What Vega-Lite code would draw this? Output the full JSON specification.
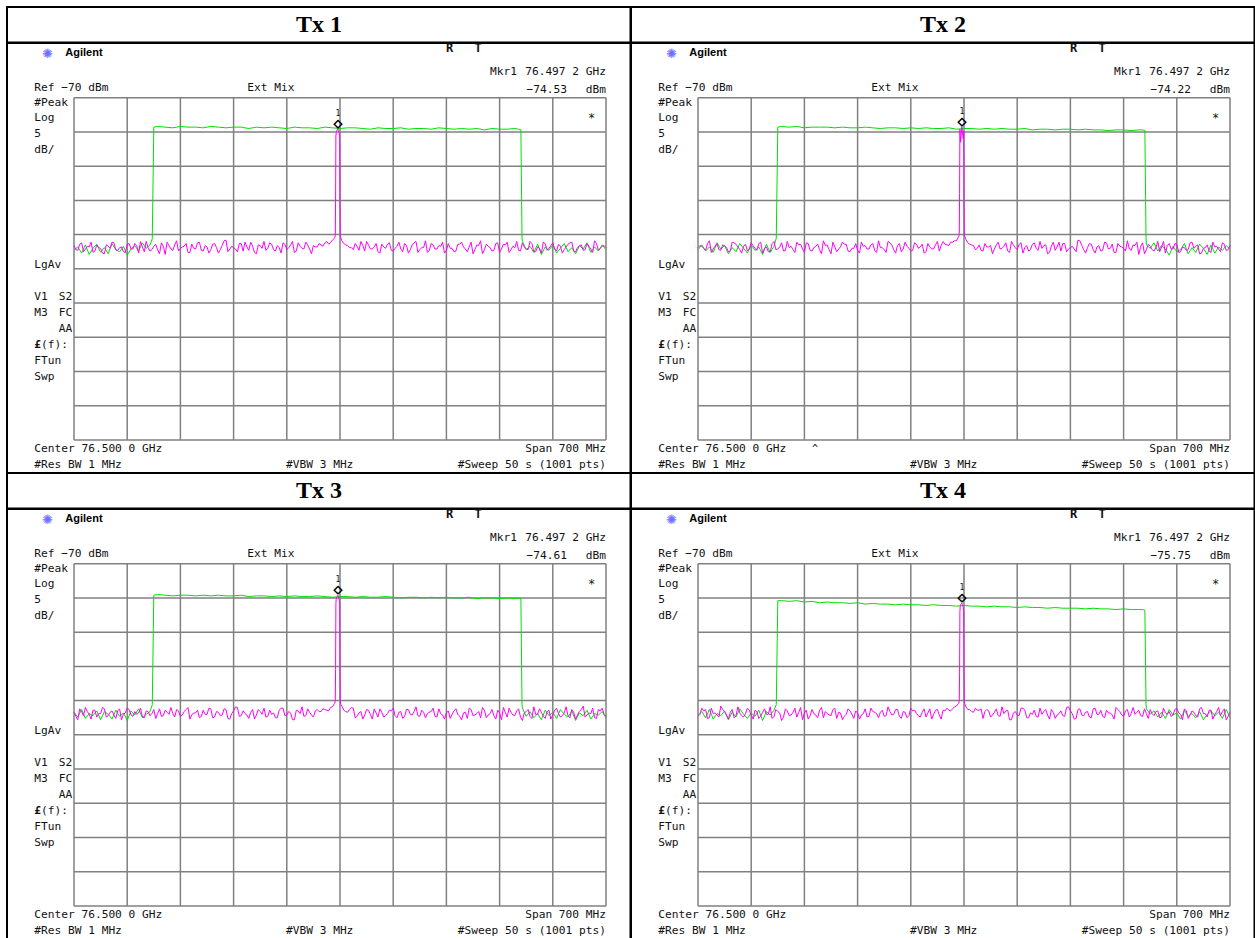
{
"$schema":"https://vega.github.io/schema/vega-lite/v6.json",
"background":"white",
"padding":{"left":4,"top":6,"right":0,"bottom":0},
"bounds":"flush",
"config":{"view":{"stroke":"black","strokeWidth":2},"axis":{"disable":true},"header":{"labels":false,"labelExpr":"''","labelFontSize":0,"labelPadding":0,"title":null,"titlePadding":0},"text":{"font":"DejaVu Sans Mono","fontSize":11.2,"fill":"#111","baseline":"middle"}},
"data":{"values":[
{"p":1,"t":"Tx 1","mf":-2.8,"mk":-74.53},{"p":2,"t":"Tx 2","mf":-2.8,"mk":-74.22},{"p":3,"t":"Tx 3","mf":-2.8,"mk":-74.61},{"p":4,"t":"Tx 4","mf":-2.8,"mk":-75.75},
{"p":1,"gx":-350,"gy":-70},{"p":1,"gx":-280,"gy":-75},{"p":1,"gx":-210,"gy":-80},{"p":1,"gx":-140,"gy":-85},{"p":1,"gx":-70,"gy":-90},{"p":1,"gx":0,"gy":-95},{"p":1,"gx":70,"gy":-100},{"p":1,"gx":140,"gy":-105},{"p":1,"gx":210,"gy":-110},{"p":1,"gx":280,"gy":-115},{"p":1,"gx":350,"gy":-120},
{"p":2,"gx":-350,"gy":-70},{"p":2,"gx":-280,"gy":-75},{"p":2,"gx":-210,"gy":-80},{"p":2,"gx":-140,"gy":-85},{"p":2,"gx":-70,"gy":-90},{"p":2,"gx":0,"gy":-95},{"p":2,"gx":70,"gy":-100},{"p":2,"gx":140,"gy":-105},{"p":2,"gx":210,"gy":-110},{"p":2,"gx":280,"gy":-115},{"p":2,"gx":350,"gy":-120},
{"p":3,"gx":-350,"gy":-70},{"p":3,"gx":-280,"gy":-75},{"p":3,"gx":-210,"gy":-80},{"p":3,"gx":-140,"gy":-85},{"p":3,"gx":-70,"gy":-90},{"p":3,"gx":0,"gy":-95},{"p":3,"gx":70,"gy":-100},{"p":3,"gx":140,"gy":-105},{"p":3,"gx":210,"gy":-110},{"p":3,"gx":280,"gy":-115},{"p":3,"gx":350,"gy":-120},
{"p":4,"gx":-350,"gy":-70},{"p":4,"gx":-280,"gy":-75},{"p":4,"gx":-210,"gy":-80},{"p":4,"gx":-140,"gy":-85},{"p":4,"gx":-70,"gy":-90},{"p":4,"gx":0,"gy":-95},{"p":4,"gx":70,"gy":-100},{"p":4,"gx":140,"gy":-105},{"p":4,"gx":210,"gy":-110},{"p":4,"gx":280,"gy":-115},{"p":4,"gx":350,"gy":-120},
{"p":1,"f":-350,"m":-91.6,"g":-92.3},{"p":1,"f":-345,"m":-92.3,"g":-91.8},{"p":1,"f":-340,"m":-91.2,"g":-92.7},{"p":1,"f":-335,"m":-92.1,"g":-91.5},{"p":1,"f":-330,"m":-91.8,"g":-92.9},{"p":1,"f":-325,"m":-92.6,"g":-92.0},{"p":1,"f":-320,"m":-91.5,"g":-91.4},{"p":1,"f":-315,"m":-92.0,"g":-92.6},{"p":1,"f":-310,"m":-92.8,"g":-91.9},{"p":1,"f":-305,"m":-91.7,"g":-92.8},{"p":1,"f":-300,"m":-91.1,"g":-91.3},{"p":1,"f":-295,"m":-92.2,"g":-92.2},{"p":1,"f":-290,"m":-91.9,"g":-92.5},{"p":1,"f":-285,"m":-92.5,"g":-91.7},{"p":1,"f":-280,"m":-91.4,"g":-93.0},{"p":1,"f":-275,"m":-92.1,"g":-92.1},{"p":1,"f":-270,"m":-91.3,"g":-91.6},{"p":1,"f":-265,"m":-92.7,"g":-92.4},{"p":1,"f":-260,"m":-91.8,"g":-91.2},{"p":1,"f":-255,"m":-91.0,"g":-92.0},{"p":1,"f":-250,"m":-92.4,"g":-91.5},{"p":1,"f":-247,"g":-90.6},
{"p":1,"f":-245,"m":-91.7,"g":-74.3},{"p":1,"f":-240,"m":-92.2,"g":-74.2},{"p":1,"f":-235,"m":-91.2},{"p":1,"f":-230,"m":-92.9,"g":-74.3},{"p":1,"f":-225,"m":-91.6},{"p":1,"f":-220,"m":-92.3,"g":-74.4},{"p":1,"f":-215,"m":-90.9},{"p":1,"f":-210,"m":-92.0,"g":-74.2},{"p":1,"f":-205,"m":-91.7},{"p":1,"f":-200,"m":-92.6,"g":-74.3},{"p":1,"f":-195,"m":-91.4},{"p":1,"f":-190,"m":-92.1,"g":-74.3},{"p":1,"f":-185,"m":-91.1},{"p":1,"f":-180,"m":-92.4,"g":-74.4},{"p":1,"f":-175,"m":-91.8},{"p":1,"f":-170,"m":-92.2,"g":-74.2},{"p":1,"f":-165,"m":-91.3},{"p":1,"f":-160,"m":-92.7,"g":-74.3},{"p":1,"f":-155,"m":-91.6},{"p":1,"f":-150,"m":-90.8,"g":-74.4},{"p":1,"f":-145,"m":-92.1},{"p":1,"f":-140,"m":-91.9,"g":-74.3},{"p":1,"f":-135,"m":-92.5},{"p":1,"f":-130,"m":-91.3,"g":-74.3},{"p":1,"f":-125,"m":-91.1},{"p":1,"f":-120,"m":-92.3,"g":-74.5},{"p":1,"f":-115,"m":-91.7},{"p":1,"f":-110,"m":-92.8,"g":-74.3},{"p":1,"f":-105,"m":-91.6},{"p":1,"f":-100,"m":-91.0,"g":-74.4},{"p":1,"f":-95,"m":-92.0},{"p":1,"f":-90,"m":-91.4,"g":-74.3},{"p":1,"f":-85,"m":-92.4},{"p":1,"f":-80,"m":-91.9,"g":-74.4},{"p":1,"f":-75,"m":-91.2},{"p":1,"f":-70,"m":-92.2,"g":-74.5},{"p":1,"f":-65,"m":-91.5},{"p":1,"f":-60,"m":-92.6,"g":-74.3},{"p":1,"f":-55,"m":-91.2},{"p":1,"f":-50,"m":-92.0,"g":-74.4},{"p":1,"f":-45,"m":-91.1},{"p":1,"f":-40,"m":-92.1,"g":-74.4},{"p":1,"f":-35,"m":-91.6},{"p":1,"f":-30,"m":-91.8,"g":-74.5},{"p":1,"f":-25,"m":-91.5},{"p":1,"f":-20,"m":-91.2,"g":-74.3},{"p":1,"f":-15,"m":-91.4},{"p":1,"f":-10,"m":-90.8,"g":-74.4},
{"p":1,"f":-7,"m":-90.5},{"p":1,"f":-6.2,"m":-90.1},{"p":1,"f":-5.8,"m":-85.0},{"p":1,"f":-5.4,"m":-75.6},{"p":1,"f":-5,"m":-75.1},{"p":1,"f":-4.5,"m":-74.9},{"p":1,"f":-3.6,"m":-74.7},{"p":1,"f":-2.8,"m":-74.53},{"p":1,"f":-2,"m":-74.8},{"p":1,"f":-1,"m":-75.2},{"p":1,"f":-0.3,"m":-75.9},{"p":1,"f":0,"m":-84.0,"g":-74.5},{"p":1,"f":0.3,"m":-89.9},{"p":1,"f":0.8,"m":-90.4},{"p":1,"f":2.5,"m":-90.9},{"p":1,"f":5,"m":-91.3},{"p":1,"f":10,"m":-91.6,"g":-74.4},
{"p":1,"f":15,"m":-91.9},{"p":1,"f":20,"m":-91.3,"g":-74.4},{"p":1,"f":25,"m":-92.3},{"p":1,"f":30,"m":-91.6,"g":-74.5},{"p":1,"f":35,"m":-91.0},{"p":1,"f":40,"m":-92.1,"g":-74.6},{"p":1,"f":45,"m":-91.8},{"p":1,"f":50,"m":-92.5,"g":-74.4},{"p":1,"f":55,"m":-91.4},{"p":1,"f":60,"m":-92.0,"g":-74.5},{"p":1,"f":65,"m":-91.2},{"p":1,"f":70,"m":-92.4,"g":-74.5},{"p":1,"f":75,"m":-91.7},{"p":1,"f":80,"m":-92.1,"g":-74.4},{"p":1,"f":85,"m":-91.3},{"p":1,"f":90,"m":-92.7,"g":-74.6},{"p":1,"f":95,"m":-91.5},{"p":1,"f":100,"m":-91.0,"g":-74.5},{"p":1,"f":105,"m":-92.2},{"p":1,"f":110,"m":-91.9,"g":-74.5},{"p":1,"f":115,"m":-92.6},{"p":1,"f":120,"m":-91.3,"g":-74.6},{"p":1,"f":125,"m":-92.1},{"p":1,"f":130,"m":-91.6,"g":-74.4},{"p":1,"f":135,"m":-91.1},{"p":1,"f":140,"m":-92.3,"g":-74.5},{"p":1,"f":145,"m":-92.0},{"p":1,"f":150,"m":-92.5,"g":-74.6},{"p":1,"f":155,"m":-91.4},{"p":1,"f":160,"m":-91.1,"g":-74.5},{"p":1,"f":165,"m":-92.1},{"p":1,"f":170,"m":-91.8,"g":-74.6},{"p":1,"f":175,"m":-92.8},{"p":1,"f":180,"m":-91.5,"g":-74.5},{"p":1,"f":185,"m":-90.9},{"p":1,"f":190,"m":-92.2,"g":-74.7},{"p":1,"f":195,"m":-91.7},{"p":1,"f":200,"m":-92.4,"g":-74.5},{"p":1,"f":205,"m":-91.3},{"p":1,"f":210,"m":-92.6,"g":-74.6},{"p":1,"f":215,"m":-91.4},{"p":1,"f":220,"m":-91.1,"g":-74.6},{"p":1,"f":225,"m":-92.2},{"p":1,"f":230,"m":-91.9,"g":-74.5},{"p":1,"f":235,"m":-92.3,"g":-74.6},{"p":1,"f":238,"g":-74.7},{"p":1,"f":239.5,"g":-90.5},
{"p":1,"f":240,"m":-91.2,"g":-91.0},{"p":1,"f":245,"m":-92.1,"g":-92.2},{"p":1,"f":250,"m":-91.0,"g":-91.7},{"p":1,"f":255,"m":-92.5,"g":-92.6},{"p":1,"f":260,"m":-91.8,"g":-91.4},{"p":1,"f":265,"m":-92.7,"g":-92.9},{"p":1,"f":270,"m":-91.3,"g":-91.8},{"p":1,"f":275,"m":-92.0,"g":-92.3},{"p":1,"f":280,"m":-91.2,"g":-91.5},{"p":1,"f":285,"m":-92.4,"g":-92.7},{"p":1,"f":290,"m":-91.7,"g":-92.0},{"p":1,"f":295,"m":-92.2,"g":-91.3},{"p":1,"f":300,"m":-91.4,"g":-92.5},{"p":1,"f":305,"m":-91.1,"g":-91.9},{"p":1,"f":310,"m":-92.5,"g":-92.8},{"p":1,"f":315,"m":-91.6,"g":-91.6},{"p":1,"f":320,"m":-92.3,"g":-92.1},{"p":1,"f":325,"m":-91.3,"g":-91.2},{"p":1,"f":330,"m":-92.1,"g":-92.6},{"p":1,"f":335,"m":-90.9,"g":-91.8},{"p":1,"f":340,"m":-92.3,"g":-92.4},{"p":1,"f":345,"m":-91.7,"g":-91.5},{"p":1,"f":350,"m":-91.9,"g":-92.2},
{"p":1,"f":-347.5,"m":-92.2},{"p":1,"f":-342.5,"m":-91.4},{"p":1,"f":-337.5,"m":-92.5},{"p":1,"f":-332.5,"m":-91.7},{"p":1,"f":-327.5,"m":-91.1},{"p":1,"f":-322.5,"m":-92.4},{"p":1,"f":-317.5,"m":-91.9},{"p":1,"f":-312.5,"m":-92.7},{"p":1,"f":-307.5,"m":-91.5},{"p":1,"f":-302.5,"m":-92.0},{"p":1,"f":-297.5,"m":-91.2},{"p":1,"f":-292.5,"m":-92.3},{"p":1,"f":-287.5,"m":-91.8},{"p":1,"f":-282.5,"m":-92.6},{"p":1,"f":-277.5,"m":-91.3},{"p":1,"f":-272.5,"m":-92.1},{"p":1,"f":-267.5,"m":-91.6},{"p":1,"f":-262.5,"m":-91.0},{"p":1,"f":-257.5,"m":-92.5},{"p":1,"f":-252.5,"m":-91.9},{"p":1,"f":-247.5,"m":-92.2},{"p":1,"f":-242.5,"m":-91.4},{"p":1,"f":-237.5,"m":-92.8},{"p":1,"f":-232.5,"m":-91.7},{"p":1,"f":-227.5,"m":-91.1},{"p":1,"f":-222.5,"m":-92.1},{"p":1,"f":-217.5,"m":-91.5},{"p":1,"f":-212.5,"m":-92.4},{"p":1,"f":-207.5,"m":-91.8},{"p":1,"f":-202.5,"m":-91.3},{"p":1,"f":-197.5,"m":-92.6},{"p":1,"f":-192.5,"m":-92.0},{"p":1,"f":-187.5,"m":-91.2},{"p":1,"f":-182.5,"m":-92.3},{"p":1,"f":-177.5,"m":-91.6},{"p":1,"f":-172.5,"m":-92.7},{"p":1,"f":-167.5,"m":-91.4},{"p":1,"f":-162.5,"m":-91.9},{"p":1,"f":-157.5,"m":-92.2},{"p":1,"f":-152.5,"m":-90.9},{"p":1,"f":-147.5,"m":-92.5},{"p":1,"f":-142.5,"m":-91.7},{"p":1,"f":-137.5,"m":-92.1},{"p":1,"f":-132.5,"m":-91.3},{"p":1,"f":-127.5,"m":-92.4},{"p":1,"f":-122.5,"m":-91.8},{"p":1,"f":-117.5,"m":-91.1},{"p":1,"f":-112.5,"m":-92.6},{"p":1,"f":-107.5,"m":-91.5},{"p":1,"f":-102.5,"m":-92.0},{"p":1,"f":-97.5,"m":-92.3},{"p":1,"f":-92.5,"m":-91.2},{"p":1,"f":-87.5,"m":-92.2},{"p":1,"f":-82.5,"m":-91.6},{"p":1,"f":-77.5,"m":-92.7},{"p":1,"f":-72.5,"m":-91.4},{"p":1,"f":-67.5,"m":-91.9},{"p":1,"f":-62.5,"m":-91.0},{"p":1,"f":-57.5,"m":-92.4},{"p":1,"f":-52.5,"m":-91.7},{"p":1,"f":-47.5,"m":-92.1},{"p":1,"f":-42.5,"m":-91.5},{"p":1,"f":-37.5,"m":-92.8},{"p":1,"f":-32.5,"m":-91.8},{"p":1,"f":-27.5,"m":-91.3},{"p":1,"f":-22.5,"m":-91.7},{"p":1,"f":-17.5,"m":-91.0},{"p":1,"f":-12.5,"m":-91.2},{"p":1,"f":7.5,"m":-91.5},{"p":1,"f":12.5,"m":-91.9},{"p":1,"f":17.5,"m":-92.2},{"p":1,"f":22.5,"m":-91.7},{"p":1,"f":27.5,"m":-91.0},{"p":1,"f":32.5,"m":-92.4},{"p":1,"f":37.5,"m":-91.5},{"p":1,"f":42.5,"m":-92.1},{"p":1,"f":47.5,"m":-91.3},{"p":1,"f":52.5,"m":-92.7},{"p":1,"f":57.5,"m":-91.8},{"p":1,"f":62.5,"m":-91.4},{"p":1,"f":67.5,"m":-92.3},{"p":1,"f":72.5,"m":-92.0},{"p":1,"f":77.5,"m":-91.1},{"p":1,"f":82.5,"m":-92.5},{"p":1,"f":87.5,"m":-91.6},{"p":1,"f":92.5,"m":-92.2},{"p":1,"f":97.5,"m":-91.2},{"p":1,"f":102.5,"m":-92.6},{"p":1,"f":107.5,"m":-91.9},{"p":1,"f":112.5,"m":-90.9},{"p":1,"f":117.5,"m":-92.3},{"p":1,"f":122.5,"m":-91.5},{"p":1,"f":127.5,"m":-92.1},{"p":1,"f":132.5,"m":-91.7},{"p":1,"f":137.5,"m":-92.7},{"p":1,"f":142.5,"m":-91.3},{"p":1,"f":147.5,"m":-92.0},{"p":1,"f":152.5,"m":-92.4},{"p":1,"f":157.5,"m":-91.4},{"p":1,"f":162.5,"m":-91.8},{"p":1,"f":167.5,"m":-92.5},{"p":1,"f":172.5,"m":-91.1},{"p":1,"f":177.5,"m":-92.2},{"p":1,"f":182.5,"m":-91.6},{"p":1,"f":187.5,"m":-92.8},{"p":1,"f":192.5,"m":-91.4},{"p":1,"f":197.5,"m":-91.9},{"p":1,"f":202.5,"m":-92.3},{"p":1,"f":207.5,"m":-91.2},{"p":1,"f":212.5,"m":-92.1},{"p":1,"f":217.5,"m":-91.5},{"p":1,"f":222.5,"m":-92.6},{"p":1,"f":227.5,"m":-91.7},{"p":1,"f":232.5,"m":-91.0},{"p":1,"f":237.5,"m":-92.4},{"p":1,"f":242.5,"m":-91.8},{"p":1,"f":247.5,"m":-92.2},{"p":1,"f":252.5,"m":-91.3},{"p":1,"f":257.5,"m":-92.5},{"p":1,"f":262.5,"m":-92.0},{"p":1,"f":267.5,"m":-91.1},{"p":1,"f":272.5,"m":-92.3},{"p":1,"f":277.5,"m":-91.6},{"p":1,"f":282.5,"m":-92.1},{"p":1,"f":287.5,"m":-91.4},{"p":1,"f":292.5,"m":-92.7},{"p":1,"f":297.5,"m":-91.8},{"p":1,"f":302.5,"m":-91.2},{"p":1,"f":307.5,"m":-92.4},{"p":1,"f":312.5,"m":-91.9},{"p":1,"f":317.5,"m":-91.5},{"p":1,"f":322.5,"m":-92.2},{"p":1,"f":327.5,"m":-91.7},{"p":1,"f":332.5,"m":-92.6},{"p":1,"f":337.5,"m":-91.3},{"p":1,"f":342.5,"m":-92.0},{"p":1,"f":347.5,"m":-91.6},
{"p":2,"f":-350,"m":-91.9,"g":-92.2},{"p":2,"f":-345,"m":-91.7,"g":-91.5},{"p":2,"f":-340,"m":-92.3,"g":-92.4},{"p":2,"f":-335,"m":-90.9,"g":-91.8},{"p":2,"f":-330,"m":-92.1,"g":-92.6},{"p":2,"f":-325,"m":-91.3,"g":-91.2},{"p":2,"f":-320,"m":-92.3,"g":-92.1},{"p":2,"f":-315,"m":-91.6,"g":-91.6},{"p":2,"f":-310,"m":-92.5,"g":-92.8},{"p":2,"f":-305,"m":-91.1,"g":-91.9},{"p":2,"f":-300,"m":-91.4,"g":-92.5},{"p":2,"f":-295,"m":-92.2,"g":-91.3},{"p":2,"f":-290,"m":-91.7,"g":-92.0},{"p":2,"f":-285,"m":-92.4,"g":-92.7},{"p":2,"f":-280,"m":-91.2,"g":-91.5},{"p":2,"f":-275,"m":-92.0,"g":-92.3},{"p":2,"f":-270,"m":-91.3,"g":-91.8},{"p":2,"f":-265,"m":-92.7,"g":-92.9},{"p":2,"f":-260,"m":-91.8,"g":-91.4},{"p":2,"f":-255,"m":-92.5,"g":-92.6},{"p":2,"f":-250,"m":-91.0,"g":-91.7},{"p":2,"f":-247,"g":-90.5},
{"p":2,"f":-245,"m":-92.1,"g":-74.3},{"p":2,"f":-240,"m":-91.2,"g":-74.2},{"p":2,"f":-235,"m":-92.3},{"p":2,"f":-230,"m":-91.9,"g":-74.3},{"p":2,"f":-225,"m":-92.2},{"p":2,"f":-220,"m":-91.1,"g":-74.2},{"p":2,"f":-215,"m":-91.4},{"p":2,"f":-210,"m":-92.6,"g":-74.4},{"p":2,"f":-205,"m":-91.3},{"p":2,"f":-200,"m":-92.4,"g":-74.3},{"p":2,"f":-195,"m":-91.7},{"p":2,"f":-190,"m":-92.2,"g":-74.3},{"p":2,"f":-185,"m":-90.9},{"p":2,"f":-180,"m":-91.5,"g":-74.3},{"p":2,"f":-175,"m":-92.8},{"p":2,"f":-170,"m":-91.8,"g":-74.4},{"p":2,"f":-165,"m":-92.1},{"p":2,"f":-160,"m":-91.1,"g":-74.3},{"p":2,"f":-155,"m":-91.4},{"p":2,"f":-150,"m":-92.5,"g":-74.4},{"p":2,"f":-145,"m":-92.0},{"p":2,"f":-140,"m":-92.3,"g":-74.4},{"p":2,"f":-135,"m":-91.1},{"p":2,"f":-130,"m":-91.6,"g":-74.3},{"p":2,"f":-125,"m":-92.1},{"p":2,"f":-120,"m":-91.3,"g":-74.4},{"p":2,"f":-115,"m":-92.6},{"p":2,"f":-110,"m":-91.9,"g":-74.5},{"p":2,"f":-105,"m":-92.2},{"p":2,"f":-100,"m":-91.0,"g":-74.4},{"p":2,"f":-95,"m":-91.5},{"p":2,"f":-90,"m":-92.7,"g":-74.4},{"p":2,"f":-85,"m":-91.3},{"p":2,"f":-80,"m":-92.1,"g":-74.5},{"p":2,"f":-75,"m":-91.7},{"p":2,"f":-70,"m":-92.4,"g":-74.4},{"p":2,"f":-65,"m":-91.2},{"p":2,"f":-60,"m":-92.0,"g":-74.5},{"p":2,"f":-55,"m":-91.4},{"p":2,"f":-50,"m":-92.5,"g":-74.4},{"p":2,"f":-45,"m":-91.8},{"p":2,"f":-40,"m":-92.1,"g":-74.5},{"p":2,"f":-35,"m":-91.0},{"p":2,"f":-30,"m":-91.6,"g":-74.5},{"p":2,"f":-25,"m":-91.4},{"p":2,"f":-20,"m":-91.6,"g":-74.4},{"p":2,"f":-15,"m":-91.1},{"p":2,"f":-10,"m":-90.9,"g":-74.6},
{"p":2,"f":-7,"m":-90.3},{"p":2,"f":-6.2,"m":-89.8},{"p":2,"f":-5.8,"m":-84.0},{"p":2,"f":-5.4,"m":-74.6},{"p":2,"f":-5,"m":-75.4},{"p":2,"f":-4.5,"m":-76.5},{"p":2,"f":-3.6,"m":-75.2},{"p":2,"f":-2.8,"m":-74.22},{"p":2,"f":-2,"m":-75.0},{"p":2,"f":-1,"m":-76.0},{"p":2,"f":-0.3,"m":-74.9},{"p":2,"f":0,"m":-83.0,"g":-74.5},{"p":2,"f":0.3,"m":-89.6},{"p":2,"f":0.8,"m":-90.2},{"p":2,"f":2.5,"m":-90.7},{"p":2,"f":5,"m":-91.2},{"p":2,"f":10,"m":-91.5,"g":-74.5},
{"p":2,"f":15,"m":-92.2},{"p":2,"f":20,"m":-91.5,"g":-74.6},{"p":2,"f":25,"m":-92.4},{"p":2,"f":30,"m":-91.8,"g":-74.5},{"p":2,"f":35,"m":-91.6},{"p":2,"f":40,"m":-92.1,"g":-74.6},{"p":2,"f":45,"m":-91.1},{"p":2,"f":50,"m":-92.0,"g":-74.5},{"p":2,"f":55,"m":-91.2},{"p":2,"f":60,"m":-92.6,"g":-74.6},{"p":2,"f":65,"m":-91.5},{"p":2,"f":70,"m":-92.2,"g":-74.6},{"p":2,"f":75,"m":-91.2},{"p":2,"f":80,"m":-91.9,"g":-74.5},{"p":2,"f":85,"m":-92.4},{"p":2,"f":90,"m":-91.4,"g":-74.7},{"p":2,"f":95,"m":-92.0},{"p":2,"f":100,"m":-91.0,"g":-74.6},{"p":2,"f":105,"m":-91.6},{"p":2,"f":110,"m":-92.8,"g":-74.6},{"p":2,"f":115,"m":-91.7},{"p":2,"f":120,"m":-92.3,"g":-74.7},{"p":2,"f":125,"m":-91.1},{"p":2,"f":130,"m":-91.3,"g":-74.6},{"p":2,"f":135,"m":-92.5},{"p":2,"f":140,"m":-91.9,"g":-74.6},{"p":2,"f":145,"m":-92.1},{"p":2,"f":150,"m":-90.8,"g":-74.7},{"p":2,"f":155,"m":-91.6},{"p":2,"f":160,"m":-92.7,"g":-74.6},{"p":2,"f":165,"m":-91.3},{"p":2,"f":170,"m":-92.2,"g":-74.7},{"p":2,"f":175,"m":-91.8},{"p":2,"f":180,"m":-92.4,"g":-74.7},{"p":2,"f":185,"m":-91.1},{"p":2,"f":190,"m":-92.1,"g":-74.8},{"p":2,"f":195,"m":-91.4},{"p":2,"f":200,"m":-92.6,"g":-74.7},{"p":2,"f":205,"m":-91.7},{"p":2,"f":210,"m":-92.0,"g":-74.7},{"p":2,"f":215,"m":-90.9},{"p":2,"f":220,"m":-92.3,"g":-74.8},{"p":2,"f":225,"m":-91.6},{"p":2,"f":230,"m":-92.9,"g":-74.7},{"p":2,"f":235,"m":-91.2,"g":-74.7},{"p":2,"f":238,"g":-74.8},{"p":2,"f":239.5,"g":-90.4},
{"p":2,"f":240,"m":-92.2,"g":-91.5},{"p":2,"f":245,"m":-91.7,"g":-92.0},{"p":2,"f":250,"m":-92.4,"g":-91.2},{"p":2,"f":255,"m":-91.0,"g":-92.4},{"p":2,"f":260,"m":-91.8,"g":-91.6},{"p":2,"f":265,"m":-92.7,"g":-92.1},{"p":2,"f":270,"m":-91.3,"g":-93.0},{"p":2,"f":275,"m":-92.1,"g":-91.7},{"p":2,"f":280,"m":-91.4,"g":-92.5},{"p":2,"f":285,"m":-92.5,"g":-92.2},{"p":2,"f":290,"m":-91.9,"g":-91.3},{"p":2,"f":295,"m":-92.2,"g":-92.8},{"p":2,"f":300,"m":-91.1,"g":-91.9},{"p":2,"f":305,"m":-91.7,"g":-92.6},{"p":2,"f":310,"m":-92.8,"g":-91.4},{"p":2,"f":315,"m":-92.0,"g":-92.0},{"p":2,"f":320,"m":-91.5,"g":-92.9},{"p":2,"f":325,"m":-92.6,"g":-91.5},{"p":2,"f":330,"m":-91.8,"g":-92.7},{"p":2,"f":335,"m":-92.1,"g":-91.8},{"p":2,"f":340,"m":-91.2,"g":-92.3},{"p":2,"f":345,"m":-92.3,"g":-91.6},{"p":2,"f":350,"m":-91.6,"g":-92.1},
{"p":2,"f":-347.5,"m":-91.6},{"p":2,"f":-342.5,"m":-92.0},{"p":2,"f":-337.5,"m":-91.3},{"p":2,"f":-332.5,"m":-92.6},{"p":2,"f":-327.5,"m":-91.7},{"p":2,"f":-322.5,"m":-92.2},{"p":2,"f":-317.5,"m":-91.5},{"p":2,"f":-312.5,"m":-91.9},{"p":2,"f":-307.5,"m":-92.4},{"p":2,"f":-302.5,"m":-91.2},{"p":2,"f":-297.5,"m":-91.8},{"p":2,"f":-292.5,"m":-92.7},{"p":2,"f":-287.5,"m":-91.4},{"p":2,"f":-282.5,"m":-92.1},{"p":2,"f":-277.5,"m":-91.6},{"p":2,"f":-272.5,"m":-92.3},{"p":2,"f":-267.5,"m":-91.1},{"p":2,"f":-262.5,"m":-92.0},{"p":2,"f":-257.5,"m":-92.5},{"p":2,"f":-252.5,"m":-91.3},{"p":2,"f":-247.5,"m":-92.2},{"p":2,"f":-242.5,"m":-91.8},{"p":2,"f":-237.5,"m":-92.4},{"p":2,"f":-232.5,"m":-91.0},{"p":2,"f":-227.5,"m":-91.7},{"p":2,"f":-222.5,"m":-92.6},{"p":2,"f":-217.5,"m":-91.5},{"p":2,"f":-212.5,"m":-92.1},{"p":2,"f":-207.5,"m":-91.2},{"p":2,"f":-202.5,"m":-92.3},{"p":2,"f":-197.5,"m":-91.9},{"p":2,"f":-192.5,"m":-91.4},{"p":2,"f":-187.5,"m":-92.8},{"p":2,"f":-182.5,"m":-91.6},{"p":2,"f":-177.5,"m":-92.2},{"p":2,"f":-172.5,"m":-91.1},{"p":2,"f":-167.5,"m":-92.5},{"p":2,"f":-162.5,"m":-91.8},{"p":2,"f":-157.5,"m":-91.4},{"p":2,"f":-152.5,"m":-92.4},{"p":2,"f":-147.5,"m":-92.0},{"p":2,"f":-142.5,"m":-91.3},{"p":2,"f":-137.5,"m":-92.7},{"p":2,"f":-132.5,"m":-91.7},{"p":2,"f":-127.5,"m":-92.1},{"p":2,"f":-122.5,"m":-91.5},{"p":2,"f":-117.5,"m":-92.3},{"p":2,"f":-112.5,"m":-90.9},{"p":2,"f":-107.5,"m":-91.9},{"p":2,"f":-102.5,"m":-92.6},{"p":2,"f":-97.5,"m":-91.2},{"p":2,"f":-92.5,"m":-92.2},{"p":2,"f":-87.5,"m":-91.6},{"p":2,"f":-82.5,"m":-92.5},{"p":2,"f":-77.5,"m":-91.1},{"p":2,"f":-72.5,"m":-92.0},{"p":2,"f":-67.5,"m":-92.3},{"p":2,"f":-62.5,"m":-91.4},{"p":2,"f":-57.5,"m":-91.8},{"p":2,"f":-52.5,"m":-92.7},{"p":2,"f":-47.5,"m":-91.3},{"p":2,"f":-42.5,"m":-92.1},{"p":2,"f":-37.5,"m":-91.5},{"p":2,"f":-32.5,"m":-92.4},{"p":2,"f":-27.5,"m":-91.0},{"p":2,"f":-22.5,"m":-91.5},{"p":2,"f":-17.5,"m":-91.1},{"p":2,"f":-12.5,"m":-90.9},{"p":2,"f":7.5,"m":-91.4},{"p":2,"f":12.5,"m":-91.6},{"p":2,"f":17.5,"m":-92.0},{"p":2,"f":22.5,"m":-92.3},{"p":2,"f":27.5,"m":-91.3},{"p":2,"f":32.5,"m":-91.8},{"p":2,"f":37.5,"m":-92.8},{"p":2,"f":42.5,"m":-91.5},{"p":2,"f":47.5,"m":-92.1},{"p":2,"f":52.5,"m":-91.7},{"p":2,"f":57.5,"m":-92.4},{"p":2,"f":62.5,"m":-91.0},{"p":2,"f":67.5,"m":-91.9},{"p":2,"f":72.5,"m":-91.4},{"p":2,"f":77.5,"m":-92.7},{"p":2,"f":82.5,"m":-91.6},{"p":2,"f":87.5,"m":-92.2},{"p":2,"f":92.5,"m":-91.2},{"p":2,"f":97.5,"m":-92.3},{"p":2,"f":102.5,"m":-92.0},{"p":2,"f":107.5,"m":-91.5},{"p":2,"f":112.5,"m":-92.6},{"p":2,"f":117.5,"m":-91.1},{"p":2,"f":122.5,"m":-91.8},{"p":2,"f":127.5,"m":-92.4},{"p":2,"f":132.5,"m":-91.3},{"p":2,"f":137.5,"m":-92.1},{"p":2,"f":142.5,"m":-91.7},{"p":2,"f":147.5,"m":-92.5},{"p":2,"f":152.5,"m":-90.9},{"p":2,"f":157.5,"m":-92.2},{"p":2,"f":162.5,"m":-91.9},{"p":2,"f":167.5,"m":-91.4},{"p":2,"f":172.5,"m":-92.7},{"p":2,"f":177.5,"m":-91.6},{"p":2,"f":182.5,"m":-92.3},{"p":2,"f":187.5,"m":-91.2},{"p":2,"f":192.5,"m":-92.0},{"p":2,"f":197.5,"m":-92.6},{"p":2,"f":202.5,"m":-91.3},{"p":2,"f":207.5,"m":-91.8},{"p":2,"f":212.5,"m":-92.4},{"p":2,"f":217.5,"m":-92.1},{"p":2,"f":222.5,"m":-91.5},{"p":2,"f":227.5,"m":-91.1},{"p":2,"f":232.5,"m":-91.7},{"p":2,"f":237.5,"m":-92.8},{"p":2,"f":242.5,"m":-91.4},{"p":2,"f":247.5,"m":-92.2},{"p":2,"f":252.5,"m":-91.9},{"p":2,"f":257.5,"m":-92.5},{"p":2,"f":262.5,"m":-91.0},{"p":2,"f":267.5,"m":-91.6},{"p":2,"f":272.5,"m":-92.1},{"p":2,"f":277.5,"m":-91.3},{"p":2,"f":282.5,"m":-92.6},{"p":2,"f":287.5,"m":-91.8},{"p":2,"f":292.5,"m":-92.3},{"p":2,"f":297.5,"m":-91.2},{"p":2,"f":302.5,"m":-92.0},{"p":2,"f":307.5,"m":-91.5},{"p":2,"f":312.5,"m":-92.7},{"p":2,"f":317.5,"m":-91.9},{"p":2,"f":322.5,"m":-92.4},{"p":2,"f":327.5,"m":-91.1},{"p":2,"f":332.5,"m":-91.7},{"p":2,"f":337.5,"m":-92.5},{"p":2,"f":342.5,"m":-91.4},{"p":2,"f":347.5,"m":-92.2},
{"p":3,"f":-350,"m":-91.7,"g":-91.7},{"p":3,"f":-345,"m":-92.8,"g":-92.4},{"p":3,"f":-340,"m":-91.6,"g":-91.3},{"p":3,"f":-335,"m":-91.0,"g":-92.6},{"p":3,"f":-330,"m":-92.0,"g":-91.9},{"p":3,"f":-325,"m":-91.4,"g":-92.2},{"p":3,"f":-320,"m":-92.4,"g":-91.5},{"p":3,"f":-315,"m":-91.9,"g":-92.8},{"p":3,"f":-310,"m":-91.2,"g":-91.6},{"p":3,"f":-305,"m":-92.2,"g":-92.0},{"p":3,"f":-300,"m":-91.5,"g":-92.7},{"p":3,"f":-295,"m":-92.6,"g":-91.4},{"p":3,"f":-290,"m":-91.2,"g":-92.3},{"p":3,"f":-285,"m":-92.0,"g":-91.8},{"p":3,"f":-280,"m":-91.1,"g":-92.9},{"p":3,"f":-275,"m":-92.1,"g":-91.5},{"p":3,"f":-270,"m":-91.6,"g":-92.1},{"p":3,"f":-265,"m":-91.8,"g":-91.2},{"p":3,"f":-260,"m":-92.4,"g":-92.5},{"p":3,"f":-255,"m":-91.5,"g":-92.0},{"p":3,"f":-250,"m":-92.2,"g":-91.6},{"p":3,"f":-247,"g":-90.6},
{"p":3,"f":-245,"m":-91.3,"g":-74.6},{"p":3,"f":-240,"m":-91.9,"g":-74.5},{"p":3,"f":-235,"m":-92.3},{"p":3,"f":-230,"m":-91.4,"g":-74.6},{"p":3,"f":-225,"m":-92.0},{"p":3,"f":-220,"m":-91.9,"g":-74.7},{"p":3,"f":-215,"m":-91.3},{"p":3,"f":-210,"m":-92.3,"g":-74.6},{"p":3,"f":-205,"m":-91.6},{"p":3,"f":-200,"m":-91.0,"g":-74.6},{"p":3,"f":-195,"m":-92.1},{"p":3,"f":-190,"m":-91.8,"g":-74.7},{"p":3,"f":-185,"m":-92.5},{"p":3,"f":-180,"m":-91.4,"g":-74.6},{"p":3,"f":-175,"m":-92.0},{"p":3,"f":-170,"m":-91.2,"g":-74.7},{"p":3,"f":-165,"m":-92.4},{"p":3,"f":-160,"m":-91.7,"g":-74.6},{"p":3,"f":-155,"m":-92.1},{"p":3,"f":-150,"m":-91.3,"g":-74.7},{"p":3,"f":-145,"m":-92.7},{"p":3,"f":-140,"m":-91.5,"g":-74.7},{"p":3,"f":-135,"m":-91.0},{"p":3,"f":-130,"m":-92.2,"g":-74.6},{"p":3,"f":-125,"m":-91.9},{"p":3,"f":-120,"m":-92.6,"g":-74.8},{"p":3,"f":-115,"m":-91.3},{"p":3,"f":-110,"m":-92.1,"g":-74.7},{"p":3,"f":-105,"m":-91.6},{"p":3,"f":-100,"m":-91.1,"g":-74.7},{"p":3,"f":-95,"m":-92.3},{"p":3,"f":-90,"m":-92.0,"g":-74.8},{"p":3,"f":-85,"m":-92.5},{"p":3,"f":-80,"m":-91.4,"g":-74.7},{"p":3,"f":-75,"m":-91.1},{"p":3,"f":-70,"m":-92.1,"g":-74.8},{"p":3,"f":-65,"m":-91.8},{"p":3,"f":-60,"m":-92.8,"g":-74.7},{"p":3,"f":-55,"m":-91.5},{"p":3,"f":-50,"m":-90.9,"g":-74.8},{"p":3,"f":-45,"m":-92.2},{"p":3,"f":-40,"m":-91.7,"g":-74.8},{"p":3,"f":-35,"m":-92.4},{"p":3,"f":-30,"m":-91.3,"g":-74.7},{"p":3,"f":-25,"m":-91.6},{"p":3,"f":-20,"m":-91.3,"g":-74.8},{"p":3,"f":-15,"m":-91.5},{"p":3,"f":-10,"m":-90.9,"g":-74.9},
{"p":3,"f":-7,"m":-90.4},{"p":3,"f":-6.2,"m":-90.0},{"p":3,"f":-5.8,"m":-85.5},{"p":3,"f":-5.4,"m":-75.8},{"p":3,"f":-5,"m":-75.2},{"p":3,"f":-4.5,"m":-75.0},{"p":3,"f":-3.6,"m":-74.8},{"p":3,"f":-2.8,"m":-74.61},{"p":3,"f":-2,"m":-74.9},{"p":3,"f":-1,"m":-75.3},{"p":3,"f":-0.3,"m":-76.0},{"p":3,"f":0,"m":-84.5,"g":-74.8},{"p":3,"f":0.3,"m":-89.8},{"p":3,"f":0.8,"m":-90.5},{"p":3,"f":2.5,"m":-90.8},{"p":3,"f":5,"m":-91.4},{"p":3,"f":10,"m":-91.7,"g":-74.8},
{"p":3,"f":15,"m":-91.0},{"p":3,"f":20,"m":-92.5,"g":-74.9},{"p":3,"f":25,"m":-91.8},{"p":3,"f":30,"m":-92.7,"g":-74.8},{"p":3,"f":35,"m":-91.3},{"p":3,"f":40,"m":-92.0,"g":-74.9},{"p":3,"f":45,"m":-91.2},{"p":3,"f":50,"m":-92.4,"g":-74.9},{"p":3,"f":55,"m":-91.7},{"p":3,"f":60,"m":-92.2,"g":-74.8},{"p":3,"f":65,"m":-91.4},{"p":3,"f":70,"m":-91.1,"g":-74.9},{"p":3,"f":75,"m":-92.5},{"p":3,"f":80,"m":-91.6,"g":-75.0},{"p":3,"f":85,"m":-92.3},{"p":3,"f":90,"m":-91.3,"g":-74.9},{"p":3,"f":95,"m":-92.1},{"p":3,"f":100,"m":-90.9,"g":-74.9},{"p":3,"f":105,"m":-92.3},{"p":3,"f":110,"m":-91.7,"g":-75.0},{"p":3,"f":115,"m":-91.9},{"p":3,"f":120,"m":-91.6,"g":-74.9},{"p":3,"f":125,"m":-92.3},{"p":3,"f":130,"m":-91.2,"g":-75.0},{"p":3,"f":135,"m":-92.1},{"p":3,"f":140,"m":-91.8,"g":-74.9},{"p":3,"f":145,"m":-92.6},{"p":3,"f":150,"m":-91.5,"g":-75.0},{"p":3,"f":155,"m":-92.0},{"p":3,"f":160,"m":-92.8,"g":-75.0},{"p":3,"f":165,"m":-91.7},{"p":3,"f":170,"m":-91.1,"g":-74.9},{"p":3,"f":175,"m":-92.2},{"p":3,"f":180,"m":-91.9,"g":-75.1},{"p":3,"f":185,"m":-92.5},{"p":3,"f":190,"m":-91.4,"g":-75.0},{"p":3,"f":195,"m":-92.1},{"p":3,"f":200,"m":-91.3,"g":-75.0},{"p":3,"f":205,"m":-92.7},{"p":3,"f":210,"m":-91.8,"g":-75.1},{"p":3,"f":215,"m":-91.0},{"p":3,"f":220,"m":-92.4,"g":-75.0},{"p":3,"f":225,"m":-91.7},{"p":3,"f":230,"m":-92.2,"g":-75.1},{"p":3,"f":235,"m":-91.2,"g":-75.0},{"p":3,"f":238,"g":-75.1},{"p":3,"f":239.5,"g":-90.6},
{"p":3,"f":240,"m":-92.9,"g":-91.1},{"p":3,"f":245,"m":-91.6,"g":-92.3},{"p":3,"f":250,"m":-92.3,"g":-91.6},{"p":3,"f":255,"m":-90.9,"g":-92.5},{"p":3,"f":260,"m":-92.0,"g":-91.9},{"p":3,"f":265,"m":-91.7,"g":-92.8},{"p":3,"f":270,"m":-92.6,"g":-91.4},{"p":3,"f":275,"m":-91.4,"g":-92.2},{"p":3,"f":280,"m":-92.1,"g":-91.7},{"p":3,"f":285,"m":-91.1,"g":-92.6},{"p":3,"f":290,"m":-92.4,"g":-91.3},{"p":3,"f":295,"m":-91.8,"g":-92.0},{"p":3,"f":300,"m":-92.2,"g":-92.4},{"p":3,"f":305,"m":-91.3,"g":-91.5},{"p":3,"f":310,"m":-92.7,"g":-92.9},{"p":3,"f":315,"m":-91.6,"g":-91.8},{"p":3,"f":320,"m":-90.8,"g":-92.2},{"p":3,"f":325,"m":-92.1,"g":-91.4},{"p":3,"f":330,"m":-91.9,"g":-92.7},{"p":3,"f":335,"m":-92.5,"g":-91.9},{"p":3,"f":340,"m":-91.3,"g":-92.1},{"p":3,"f":345,"m":-91.1,"g":-91.6},{"p":3,"f":350,"m":-92.3,"g":-92.5},
{"p":3,"f":-347.5,"m":-92.3},{"p":3,"f":-342.5,"m":-91.2},{"p":3,"f":-337.5,"m":-92.2},{"p":3,"f":-332.5,"m":-91.6},{"p":3,"f":-327.5,"m":-92.7},{"p":3,"f":-322.5,"m":-91.4},{"p":3,"f":-317.5,"m":-91.9},{"p":3,"f":-312.5,"m":-91.0},{"p":3,"f":-307.5,"m":-92.4},{"p":3,"f":-302.5,"m":-91.7},{"p":3,"f":-297.5,"m":-92.1},{"p":3,"f":-292.5,"m":-91.5},{"p":3,"f":-287.5,"m":-92.8},{"p":3,"f":-282.5,"m":-91.8},{"p":3,"f":-277.5,"m":-91.3},{"p":3,"f":-272.5,"m":-92.3},{"p":3,"f":-267.5,"m":-92.0},{"p":3,"f":-262.5,"m":-91.1},{"p":3,"f":-257.5,"m":-92.5},{"p":3,"f":-252.5,"m":-91.6},{"p":3,"f":-247.5,"m":-91.9},{"p":3,"f":-242.5,"m":-92.6},{"p":3,"f":-237.5,"m":-91.2},{"p":3,"f":-232.5,"m":-92.2},{"p":3,"f":-227.5,"m":-91.7},{"p":3,"f":-222.5,"m":-91.0},{"p":3,"f":-217.5,"m":-92.4},{"p":3,"f":-212.5,"m":-91.5},{"p":3,"f":-207.5,"m":-92.1},{"p":3,"f":-202.5,"m":-91.3},{"p":3,"f":-197.5,"m":-92.7},{"p":3,"f":-192.5,"m":-91.8},{"p":3,"f":-187.5,"m":-91.4},{"p":3,"f":-182.5,"m":-92.3},{"p":3,"f":-177.5,"m":-92.0},{"p":3,"f":-172.5,"m":-91.1},{"p":3,"f":-167.5,"m":-92.5},{"p":3,"f":-162.5,"m":-91.6},{"p":3,"f":-157.5,"m":-92.2},{"p":3,"f":-152.5,"m":-91.2},{"p":3,"f":-147.5,"m":-92.6},{"p":3,"f":-142.5,"m":-91.9},{"p":3,"f":-137.5,"m":-90.9},{"p":3,"f":-132.5,"m":-92.3},{"p":3,"f":-127.5,"m":-91.5},{"p":3,"f":-122.5,"m":-92.1},{"p":3,"f":-117.5,"m":-91.7},{"p":3,"f":-112.5,"m":-92.7},{"p":3,"f":-107.5,"m":-91.3},{"p":3,"f":-102.5,"m":-92.0},{"p":3,"f":-97.5,"m":-92.4},{"p":3,"f":-92.5,"m":-91.4},{"p":3,"f":-87.5,"m":-91.8},{"p":3,"f":-82.5,"m":-92.5},{"p":3,"f":-77.5,"m":-91.1},{"p":3,"f":-72.5,"m":-92.2},{"p":3,"f":-67.5,"m":-91.6},{"p":3,"f":-62.5,"m":-92.8},{"p":3,"f":-57.5,"m":-91.4},{"p":3,"f":-52.5,"m":-91.9},{"p":3,"f":-47.5,"m":-92.3},{"p":3,"f":-42.5,"m":-91.2},{"p":3,"f":-37.5,"m":-92.1},{"p":3,"f":-32.5,"m":-91.5},{"p":3,"f":-27.5,"m":-91.6},{"p":3,"f":-22.5,"m":-91.2},{"p":3,"f":-17.5,"m":-91.4},{"p":3,"f":-12.5,"m":-91.0},{"p":3,"f":7.5,"m":-91.6},{"p":3,"f":12.5,"m":-91.3},{"p":3,"f":17.5,"m":-91.1},{"p":3,"f":22.5,"m":-92.3},{"p":3,"f":27.5,"m":-91.6},{"p":3,"f":32.5,"m":-92.1},{"p":3,"f":37.5,"m":-91.4},{"p":3,"f":42.5,"m":-92.7},{"p":3,"f":47.5,"m":-91.8},{"p":3,"f":52.5,"m":-91.2},{"p":3,"f":57.5,"m":-92.4},{"p":3,"f":62.5,"m":-91.9},{"p":3,"f":67.5,"m":-91.5},{"p":3,"f":72.5,"m":-92.2},{"p":3,"f":77.5,"m":-91.7},{"p":3,"f":82.5,"m":-92.6},{"p":3,"f":87.5,"m":-91.3},{"p":3,"f":92.5,"m":-92.0},{"p":3,"f":97.5,"m":-91.6},{"p":3,"f":102.5,"m":-92.2},{"p":3,"f":107.5,"m":-91.4},{"p":3,"f":112.5,"m":-92.5},{"p":3,"f":117.5,"m":-91.7},{"p":3,"f":122.5,"m":-91.1},{"p":3,"f":127.5,"m":-92.4},{"p":3,"f":132.5,"m":-91.9},{"p":3,"f":137.5,"m":-92.7},{"p":3,"f":142.5,"m":-91.5},{"p":3,"f":147.5,"m":-92.0},{"p":3,"f":152.5,"m":-91.2},{"p":3,"f":157.5,"m":-92.3},{"p":3,"f":162.5,"m":-91.8},{"p":3,"f":167.5,"m":-92.6},{"p":3,"f":172.5,"m":-91.3},{"p":3,"f":177.5,"m":-92.1},{"p":3,"f":182.5,"m":-91.6},{"p":3,"f":187.5,"m":-91.0},{"p":3,"f":192.5,"m":-92.5},{"p":3,"f":197.5,"m":-91.9},{"p":3,"f":202.5,"m":-92.2},{"p":3,"f":207.5,"m":-91.4},{"p":3,"f":212.5,"m":-92.8},{"p":3,"f":217.5,"m":-91.7},{"p":3,"f":222.5,"m":-91.1},{"p":3,"f":227.5,"m":-92.1},{"p":3,"f":232.5,"m":-91.5},{"p":3,"f":237.5,"m":-92.4},{"p":3,"f":242.5,"m":-91.8},{"p":3,"f":247.5,"m":-91.3},{"p":3,"f":252.5,"m":-92.6},{"p":3,"f":257.5,"m":-92.0},{"p":3,"f":262.5,"m":-91.2},{"p":3,"f":267.5,"m":-92.3},{"p":3,"f":272.5,"m":-91.6},{"p":3,"f":277.5,"m":-92.7},{"p":3,"f":282.5,"m":-91.4},{"p":3,"f":287.5,"m":-91.9},{"p":3,"f":292.5,"m":-92.2},{"p":3,"f":297.5,"m":-90.9},{"p":3,"f":302.5,"m":-92.5},{"p":3,"f":307.5,"m":-91.7},{"p":3,"f":312.5,"m":-92.1},{"p":3,"f":317.5,"m":-91.3},{"p":3,"f":322.5,"m":-92.4},{"p":3,"f":327.5,"m":-91.8},{"p":3,"f":332.5,"m":-91.1},{"p":3,"f":337.5,"m":-92.6},{"p":3,"f":342.5,"m":-91.5},{"p":3,"f":347.5,"m":-92.0},
{"p":4,"f":-350,"m":-92.3,"g":-92.1},{"p":4,"f":-345,"m":-91.1,"g":-91.6},{"p":4,"f":-340,"m":-91.3,"g":-92.5},{"p":4,"f":-335,"m":-92.5,"g":-91.3},{"p":4,"f":-330,"m":-91.9,"g":-92.7},{"p":4,"f":-325,"m":-92.1,"g":-91.9},{"p":4,"f":-320,"m":-90.8,"g":-92.2},{"p":4,"f":-315,"m":-91.6,"g":-91.5},{"p":4,"f":-310,"m":-92.7,"g":-92.8},{"p":4,"f":-305,"m":-91.3,"g":-91.7},{"p":4,"f":-300,"m":-92.2,"g":-92.4},{"p":4,"f":-295,"m":-91.8,"g":-91.2},{"p":4,"f":-290,"m":-92.4,"g":-92.0},{"p":4,"f":-285,"m":-91.1,"g":-92.6},{"p":4,"f":-280,"m":-92.1,"g":-91.8},{"p":4,"f":-275,"m":-91.4,"g":-92.3},{"p":4,"f":-270,"m":-92.6,"g":-91.4},{"p":4,"f":-265,"m":-91.7,"g":-92.9},{"p":4,"f":-260,"m":-92.0,"g":-91.6},{"p":4,"f":-255,"m":-90.9,"g":-92.1},{"p":4,"f":-250,"m":-92.3,"g":-91.4},{"p":4,"f":-247,"g":-90.6},
{"p":4,"f":-245,"m":-91.6,"g":-75.4},{"p":4,"f":-240,"m":-92.9,"g":-75.4},{"p":4,"f":-235,"m":-91.2},{"p":4,"f":-230,"m":-92.2,"g":-75.5},{"p":4,"f":-225,"m":-91.7},{"p":4,"f":-220,"m":-92.4,"g":-75.4},{"p":4,"f":-215,"m":-91.0},{"p":4,"f":-210,"m":-91.8,"g":-75.6},{"p":4,"f":-205,"m":-92.7},{"p":4,"f":-200,"m":-91.3,"g":-75.5},{"p":4,"f":-195,"m":-92.1},{"p":4,"f":-190,"m":-91.4,"g":-75.7},{"p":4,"f":-185,"m":-92.5},{"p":4,"f":-180,"m":-91.9,"g":-75.6},{"p":4,"f":-175,"m":-92.2},{"p":4,"f":-170,"m":-91.1,"g":-75.7},{"p":4,"f":-165,"m":-91.7},{"p":4,"f":-160,"m":-92.8,"g":-75.7},{"p":4,"f":-155,"m":-92.0},{"p":4,"f":-150,"m":-91.5,"g":-75.8},{"p":4,"f":-145,"m":-92.6},{"p":4,"f":-140,"m":-91.8,"g":-75.7},{"p":4,"f":-135,"m":-92.1},{"p":4,"f":-130,"m":-91.2,"g":-75.9},{"p":4,"f":-125,"m":-92.3},{"p":4,"f":-120,"m":-91.6,"g":-75.8},{"p":4,"f":-115,"m":-91.9},{"p":4,"f":-110,"m":-91.7,"g":-75.9},{"p":4,"f":-105,"m":-92.3},{"p":4,"f":-100,"m":-90.9,"g":-75.9},{"p":4,"f":-95,"m":-92.1},{"p":4,"f":-90,"m":-91.3,"g":-76.0},{"p":4,"f":-85,"m":-92.3},{"p":4,"f":-80,"m":-91.6,"g":-75.9},{"p":4,"f":-75,"m":-92.5},{"p":4,"f":-70,"m":-91.1,"g":-76.0},{"p":4,"f":-65,"m":-91.4},{"p":4,"f":-60,"m":-92.2,"g":-76.0},{"p":4,"f":-55,"m":-91.7},{"p":4,"f":-50,"m":-92.4,"g":-76.1},{"p":4,"f":-45,"m":-91.2},{"p":4,"f":-40,"m":-92.0,"g":-76.0},{"p":4,"f":-35,"m":-91.3},{"p":4,"f":-30,"m":-92.7,"g":-76.1},{"p":4,"f":-25,"m":-91.5},{"p":4,"f":-20,"m":-91.4,"g":-76.1},{"p":4,"f":-15,"m":-91.2},{"p":4,"f":-10,"m":-90.8,"g":-76.2},
{"p":4,"f":-7,"m":-90.4},{"p":4,"f":-6.2,"m":-90.0},{"p":4,"f":-5.8,"m":-86.0},{"p":4,"f":-5.4,"m":-77.0},{"p":4,"f":-5,"m":-76.3},{"p":4,"f":-4.5,"m":-76.0},{"p":4,"f":-3.6,"m":-75.9},{"p":4,"f":-2.8,"m":-75.75},{"p":4,"f":-2,"m":-76.0},{"p":4,"f":-1,"m":-76.4},{"p":4,"f":-0.3,"m":-77.0},{"p":4,"f":0,"m":-85.0,"g":-76.1},{"p":4,"f":0.3,"m":-89.9},{"p":4,"f":0.8,"m":-90.4},{"p":4,"f":2.5,"m":-90.9},{"p":4,"f":5,"m":-91.3},{"p":4,"f":10,"m":-91.6,"g":-76.2},
{"p":4,"f":15,"m":-91.1},{"p":4,"f":20,"m":-91.4,"g":-76.2},{"p":4,"f":25,"m":-92.6},{"p":4,"f":30,"m":-91.3,"g":-76.3},{"p":4,"f":35,"m":-92.4},{"p":4,"f":40,"m":-91.7,"g":-76.2},{"p":4,"f":45,"m":-92.2},{"p":4,"f":50,"m":-90.9,"g":-76.3},{"p":4,"f":55,"m":-91.5},{"p":4,"f":60,"m":-92.8,"g":-76.3},{"p":4,"f":65,"m":-91.8},{"p":4,"f":70,"m":-92.1,"g":-76.4},{"p":4,"f":75,"m":-91.1},{"p":4,"f":80,"m":-91.4,"g":-76.3},{"p":4,"f":85,"m":-92.5},{"p":4,"f":90,"m":-92.0,"g":-76.4},{"p":4,"f":95,"m":-92.3},{"p":4,"f":100,"m":-91.1,"g":-76.4},{"p":4,"f":105,"m":-91.6},{"p":4,"f":110,"m":-92.1,"g":-76.5},{"p":4,"f":115,"m":-91.3},{"p":4,"f":120,"m":-92.6,"g":-76.4},{"p":4,"f":125,"m":-91.9},{"p":4,"f":130,"m":-92.2,"g":-76.5},{"p":4,"f":135,"m":-91.0},{"p":4,"f":140,"m":-91.5,"g":-76.5},{"p":4,"f":145,"m":-92.7},{"p":4,"f":150,"m":-91.3,"g":-76.5},{"p":4,"f":155,"m":-92.1},{"p":4,"f":160,"m":-91.7,"g":-76.6},{"p":4,"f":165,"m":-92.4},{"p":4,"f":170,"m":-91.2,"g":-76.5},{"p":4,"f":175,"m":-92.0},{"p":4,"f":180,"m":-91.4,"g":-76.6},{"p":4,"f":185,"m":-92.5},{"p":4,"f":190,"m":-91.8,"g":-76.6},{"p":4,"f":195,"m":-92.1},{"p":4,"f":200,"m":-91.0,"g":-76.7},{"p":4,"f":205,"m":-91.6},{"p":4,"f":210,"m":-92.3,"g":-76.6},{"p":4,"f":215,"m":-91.3},{"p":4,"f":220,"m":-91.9,"g":-76.7},{"p":4,"f":225,"m":-92.0},{"p":4,"f":230,"m":-91.4,"g":-76.7},{"p":4,"f":235,"m":-92.3,"g":-76.7},{"p":4,"f":238,"g":-76.8},{"p":4,"f":239.5,"g":-90.5},
{"p":4,"f":240,"m":-91.9,"g":-91.2},{"p":4,"f":245,"m":-91.3,"g":-92.0},{"p":4,"f":250,"m":-92.2,"g":-91.5},{"p":4,"f":255,"m":-91.5,"g":-92.4},{"p":4,"f":260,"m":-92.4,"g":-91.7},{"p":4,"f":265,"m":-91.8,"g":-92.6},{"p":4,"f":270,"m":-91.6,"g":-91.3},{"p":4,"f":275,"m":-92.1,"g":-92.1},{"p":4,"f":280,"m":-91.1,"g":-91.8},{"p":4,"f":285,"m":-92.0,"g":-92.7},{"p":4,"f":290,"m":-91.2,"g":-91.4},{"p":4,"f":295,"m":-92.6,"g":-92.3},{"p":4,"f":300,"m":-91.5,"g":-91.9},{"p":4,"f":305,"m":-92.2,"g":-92.5},{"p":4,"f":310,"m":-91.2,"g":-91.6},{"p":4,"f":315,"m":-91.9,"g":-92.8},{"p":4,"f":320,"m":-92.4,"g":-92.0},{"p":4,"f":325,"m":-91.4,"g":-91.5},{"p":4,"f":330,"m":-92.0,"g":-92.2},{"p":4,"f":335,"m":-91.0,"g":-91.7},{"p":4,"f":340,"m":-91.6,"g":-92.6},{"p":4,"f":345,"m":-92.8,"g":-91.3},{"p":4,"f":350,"m":-91.7,"g":-92.4},
{"p":4,"f":-347.5,"m":-92.0},{"p":4,"f":-342.5,"m":-91.5},{"p":4,"f":-337.5,"m":-92.6},{"p":4,"f":-332.5,"m":-91.1},{"p":4,"f":-327.5,"m":-91.8},{"p":4,"f":-322.5,"m":-92.4},{"p":4,"f":-317.5,"m":-91.3},{"p":4,"f":-312.5,"m":-92.1},{"p":4,"f":-307.5,"m":-91.7},{"p":4,"f":-302.5,"m":-92.5},{"p":4,"f":-297.5,"m":-90.9},{"p":4,"f":-292.5,"m":-92.2},{"p":4,"f":-287.5,"m":-91.9},{"p":4,"f":-282.5,"m":-91.4},{"p":4,"f":-277.5,"m":-92.7},{"p":4,"f":-272.5,"m":-91.6},{"p":4,"f":-267.5,"m":-92.3},{"p":4,"f":-262.5,"m":-91.2},{"p":4,"f":-257.5,"m":-92.0},{"p":4,"f":-252.5,"m":-92.6},{"p":4,"f":-247.5,"m":-91.3},{"p":4,"f":-242.5,"m":-91.8},{"p":4,"f":-237.5,"m":-92.4},{"p":4,"f":-232.5,"m":-91.5},{"p":4,"f":-227.5,"m":-92.1},{"p":4,"f":-222.5,"m":-91.1},{"p":4,"f":-217.5,"m":-91.7},{"p":4,"f":-212.5,"m":-92.8},{"p":4,"f":-207.5,"m":-91.4},{"p":4,"f":-202.5,"m":-92.2},{"p":4,"f":-197.5,"m":-91.9},{"p":4,"f":-192.5,"m":-92.5},{"p":4,"f":-187.5,"m":-91.0},{"p":4,"f":-182.5,"m":-91.6},{"p":4,"f":-177.5,"m":-92.1},{"p":4,"f":-172.5,"m":-91.3},{"p":4,"f":-167.5,"m":-92.6},{"p":4,"f":-162.5,"m":-91.8},{"p":4,"f":-157.5,"m":-92.3},{"p":4,"f":-152.5,"m":-91.2},{"p":4,"f":-147.5,"m":-92.0},{"p":4,"f":-142.5,"m":-91.5},{"p":4,"f":-137.5,"m":-92.7},{"p":4,"f":-132.5,"m":-91.9},{"p":4,"f":-127.5,"m":-92.4},{"p":4,"f":-122.5,"m":-91.1},{"p":4,"f":-117.5,"m":-91.7},{"p":4,"f":-112.5,"m":-92.5},{"p":4,"f":-107.5,"m":-91.4},{"p":4,"f":-102.5,"m":-92.2},{"p":4,"f":-97.5,"m":-91.6},{"p":4,"f":-92.5,"m":-92.0},{"p":4,"f":-87.5,"m":-91.3},{"p":4,"f":-82.5,"m":-92.6},{"p":4,"f":-77.5,"m":-91.7},{"p":4,"f":-72.5,"m":-92.2},{"p":4,"f":-67.5,"m":-91.5},{"p":4,"f":-62.5,"m":-91.9},{"p":4,"f":-57.5,"m":-92.4},{"p":4,"f":-52.5,"m":-91.2},{"p":4,"f":-47.5,"m":-91.8},{"p":4,"f":-42.5,"m":-92.7},{"p":4,"f":-37.5,"m":-91.4},{"p":4,"f":-32.5,"m":-92.1},{"p":4,"f":-27.5,"m":-91.4},{"p":4,"f":-22.5,"m":-91.1},{"p":4,"f":-17.5,"m":-91.5},{"p":4,"f":-12.5,"m":-90.9},{"p":4,"f":7.5,"m":-91.3},{"p":4,"f":12.5,"m":-91.7},{"p":4,"f":17.5,"m":-91.4},{"p":4,"f":22.5,"m":-91.2},{"p":4,"f":27.5,"m":-91.6},{"p":4,"f":32.5,"m":-91.5},{"p":4,"f":37.5,"m":-92.1},{"p":4,"f":42.5,"m":-91.2},{"p":4,"f":47.5,"m":-92.3},{"p":4,"f":52.5,"m":-91.9},{"p":4,"f":57.5,"m":-91.4},{"p":4,"f":62.5,"m":-92.8},{"p":4,"f":67.5,"m":-91.6},{"p":4,"f":72.5,"m":-92.2},{"p":4,"f":77.5,"m":-91.1},{"p":4,"f":82.5,"m":-92.5},{"p":4,"f":87.5,"m":-91.8},{"p":4,"f":92.5,"m":-91.4},{"p":4,"f":97.5,"m":-92.4},{"p":4,"f":102.5,"m":-92.0},{"p":4,"f":107.5,"m":-91.3},{"p":4,"f":112.5,"m":-92.7},{"p":4,"f":117.5,"m":-91.7},{"p":4,"f":122.5,"m":-92.1},{"p":4,"f":127.5,"m":-91.5},{"p":4,"f":132.5,"m":-92.3},{"p":4,"f":137.5,"m":-90.9},{"p":4,"f":142.5,"m":-91.9},{"p":4,"f":147.5,"m":-92.6},{"p":4,"f":152.5,"m":-91.2},{"p":4,"f":157.5,"m":-92.2},{"p":4,"f":162.5,"m":-91.6},{"p":4,"f":167.5,"m":-92.5},{"p":4,"f":172.5,"m":-91.1},{"p":4,"f":177.5,"m":-92.0},{"p":4,"f":182.5,"m":-92.3},{"p":4,"f":187.5,"m":-91.4},{"p":4,"f":192.5,"m":-91.8},{"p":4,"f":197.5,"m":-92.7},{"p":4,"f":202.5,"m":-91.3},{"p":4,"f":207.5,"m":-92.1},{"p":4,"f":212.5,"m":-91.5},{"p":4,"f":217.5,"m":-92.4},{"p":4,"f":222.5,"m":-91.0},{"p":4,"f":227.5,"m":-91.7},{"p":4,"f":232.5,"m":-92.2},{"p":4,"f":237.5,"m":-91.2},{"p":4,"f":242.5,"m":-92.6},{"p":4,"f":247.5,"m":-91.9},{"p":4,"f":252.5,"m":-91.6},{"p":4,"f":257.5,"m":-92.5},{"p":4,"f":262.5,"m":-91.1},{"p":4,"f":267.5,"m":-92.0},{"p":4,"f":272.5,"m":-92.3},{"p":4,"f":277.5,"m":-91.3},{"p":4,"f":282.5,"m":-91.8},{"p":4,"f":287.5,"m":-92.8},{"p":4,"f":292.5,"m":-91.5},{"p":4,"f":297.5,"m":-92.1},{"p":4,"f":302.5,"m":-91.7},{"p":4,"f":307.5,"m":-92.4},{"p":4,"f":312.5,"m":-91.0},{"p":4,"f":317.5,"m":-91.9},{"p":4,"f":322.5,"m":-91.4},{"p":4,"f":327.5,"m":-92.7},{"p":4,"f":332.5,"m":-91.6},{"p":4,"f":337.5,"m":-92.2},{"p":4,"f":342.5,"m":-91.2},{"p":4,"f":347.5,"m":-92.3}
]},
"facet":{"field":"p","type":"ordinal","title":null,"header":{"labels":false,"labelExpr":"''","labelFontSize":0,"labelPadding":0,"title":null,"titlePadding":0}},
"columns":2,
"spacing":0,
"spec":{
"width":623.5,"height":466,
"layer":[
{"transform":[{"filter":"isValid(datum.gy)"}],"mark":{"type":"rule","color":"#808080","strokeWidth":1.5},"encoding":{"y":{"field":"gy","type":"quantitative","scale":{"domain":[-124.82,-56.751],"nice":false,"zero":false},"axis":null},"x":{"datum":-350,"type":"quantitative","scale":{"domain":[-438.16,382.24],"nice":false,"zero":false},"axis":null},"x2":{"datum":350}}},
{"transform":[{"filter":"isValid(datum.gx)"}],"mark":{"type":"rule","color":"#808080","strokeWidth":1.5},"encoding":{"x":{"field":"gx","type":"quantitative","scale":{"domain":[-438.16,382.24],"nice":false,"zero":false},"axis":null},"y":{"datum":-70,"type":"quantitative","scale":{"domain":[-124.82,-56.751],"nice":false,"zero":false},"axis":null},"y2":{"datum":-120}}},
{"transform":[{"filter":"isValid(datum.g)"}],"mark":{"type":"line","color":"#00e000","strokeWidth":1},"encoding":{"x":{"field":"f","type":"quantitative","scale":{"domain":[-438.16,382.24],"nice":false,"zero":false},"axis":null},"y":{"field":"g","type":"quantitative","scale":{"domain":[-124.82,-56.751],"nice":false,"zero":false},"axis":null}}},
{"transform":[{"filter":"isValid(datum.m)"}],"mark":{"type":"line","color":"#ff00ff","strokeWidth":1},"encoding":{"x":{"field":"f","type":"quantitative","scale":{"domain":[-438.16,382.24],"nice":false,"zero":false},"axis":null},"y":{"field":"m","type":"quantitative","scale":{"domain":[-124.82,-56.751],"nice":false,"zero":false},"axis":null}}},
{"transform":[{"filter":"isValid(datum.mk)"}],"layer":[
{"mark":{"type":"rule","color":"black","strokeWidth":2.5},"encoding":{"y":{"datum":-61.966,"type":"quantitative","scale":{"domain":[-124.82,-56.751],"nice":false,"zero":false}}}},
{"mark":{"type":"text","font":"Liberation Serif","fontWeight":"bold","fontSize":24,"fill":"black","align":"center"},"encoding":{"text":{"field":"t"},"x":{"datum":-27.63,"type":"quantitative","scale":{"domain":[-438.16,382.24],"nice":false,"zero":false}},"y":{"datum":-59.38,"type":"quantitative","scale":{"domain":[-124.82,-56.751],"nice":false,"zero":false}}}},
{"mark":{"type":"text","text":"✺","font":"DejaVu Sans","fontSize":13,"fill":"#7070ff","align":"center"},"encoding":{"x":{"datum":-384.87,"type":"quantitative","scale":{"domain":[-438.16,382.24],"nice":false,"zero":false}},"y":{"datum":-63.59,"type":"quantitative","scale":{"domain":[-124.82,-56.751],"nice":false,"zero":false}}}},
{"mark":{"type":"text","text":"Agilent","font":"Liberation Sans","fontWeight":"bold","fontSize":11,"fill":"black","align":"left"},"encoding":{"x":{"datum":-361.45,"type":"quantitative","scale":{"domain":[-438.16,382.24],"nice":false,"zero":false}},"y":{"datum":-63.52,"type":"quantitative","scale":{"domain":[-124.82,-56.751],"nice":false,"zero":false}}}},
{"mark":{"type":"text","text":"R","fontWeight":"bold","fontSize":12,"align":"center"},"encoding":{"x":{"datum":144.34,"type":"quantitative","scale":{"domain":[-438.16,382.24],"nice":false,"zero":false}},"y":{"datum":-62.711,"type":"quantitative","scale":{"domain":[-124.82,-56.751],"nice":false,"zero":false}}}},
{"mark":{"type":"text","text":"T","fontWeight":"bold","fontSize":12,"align":"center"},"encoding":{"x":{"datum":181.58,"type":"quantitative","scale":{"domain":[-438.16,382.24],"nice":false,"zero":false}},"y":{"datum":-62.711,"type":"quantitative","scale":{"domain":[-124.82,-56.751],"nice":false,"zero":false}}}},
{"mark":{"type":"text","text":"Mkr1","align":"left"},"encoding":{"x":{"datum":197.37,"type":"quantitative","scale":{"domain":[-438.16,382.24],"nice":false,"zero":false}},"y":{"datum":-66.202,"type":"quantitative","scale":{"domain":[-124.82,-56.751],"nice":false,"zero":false}}}},
{"mark":{"type":"text","text":"76.497 2 GHz","align":"right"},"encoding":{"x":{"datum":350,"type":"quantitative","scale":{"domain":[-438.16,382.24],"nice":false,"zero":false}},"y":{"datum":-66.202,"type":"quantitative","scale":{"domain":[-124.82,-56.751],"nice":false,"zero":false}}}},
{"mark":{"type":"text","align":"right"},"encoding":{"text":{"field":"mk","type":"quantitative","format":".2f"},"x":{"datum":298.68,"type":"quantitative","scale":{"domain":[-438.16,382.24],"nice":false,"zero":false}},"y":{"datum":-68.875,"type":"quantitative","scale":{"domain":[-124.82,-56.751],"nice":false,"zero":false}}}},
{"mark":{"type":"text","text":"dBm","align":"right"},"encoding":{"x":{"datum":350,"type":"quantitative","scale":{"domain":[-438.16,382.24],"nice":false,"zero":false}},"y":{"datum":-68.875,"type":"quantitative","scale":{"domain":[-124.82,-56.751],"nice":false,"zero":false}}}},
{"mark":{"type":"text","text":"Ref −70 dBm","align":"left"},"encoding":{"x":{"datum":-402.24,"type":"quantitative","scale":{"domain":[-438.16,382.24],"nice":false,"zero":false}},"y":{"datum":-68.627,"type":"quantitative","scale":{"domain":[-124.82,-56.751],"nice":false,"zero":false}}}},
{"mark":{"type":"text","text":"Ext Mix","align":"left"},"encoding":{"x":{"datum":-121.98,"type":"quantitative","scale":{"domain":[-438.16,382.24],"nice":false,"zero":false}},"y":{"datum":-68.627,"type":"quantitative","scale":{"domain":[-124.82,-56.751],"nice":false,"zero":false}}}},
{"mark":{"type":"text","text":["#Peak","Log","5","dB/"],"lineHeight":15.8,"align":"left"},"encoding":{"x":{"datum":-402.24,"type":"quantitative","scale":{"domain":[-438.16,382.24],"nice":false,"zero":false}},"y":{"datum":-70.73,"type":"quantitative","scale":{"domain":[-124.82,-56.751],"nice":false,"zero":false}}}},
{"mark":{"type":"text","text":"LgAv","align":"left"},"encoding":{"x":{"datum":-402.24,"type":"quantitative","scale":{"domain":[-438.16,382.24],"nice":false,"zero":false}},"y":{"datum":-94.437,"type":"quantitative","scale":{"domain":[-124.82,-56.751],"nice":false,"zero":false}}}},
{"mark":{"type":"text","text":["V1","M3"],"lineHeight":16,"align":"left"},"encoding":{"x":{"datum":-402.24,"type":"quantitative","scale":{"domain":[-438.16,382.24],"nice":false,"zero":false}},"y":{"datum":-99.184,"type":"quantitative","scale":{"domain":[-124.82,-56.751],"nice":false,"zero":false}}}},
{"mark":{"type":"text","text":["S2","FC","AA"],"lineHeight":16,"align":"right"},"encoding":{"x":{"datum":-352.24,"type":"quantitative","scale":{"domain":[-438.16,382.24],"nice":false,"zero":false}},"y":{"datum":-99.184,"type":"quantitative","scale":{"domain":[-124.82,-56.751],"nice":false,"zero":false}}}},
{"mark":{"type":"text","text":"£","fontWeight":"bold","align":"left"},"encoding":{"x":{"datum":-402.24,"type":"quantitative","scale":{"domain":[-438.16,382.24],"nice":false,"zero":false}},"y":{"datum":-106.123,"type":"quantitative","scale":{"domain":[-124.82,-56.751],"nice":false,"zero":false}}}},
{"mark":{"type":"text","text":"(f):","align":"left"},"encoding":{"x":{"datum":-393.37,"type":"quantitative","scale":{"domain":[-438.16,382.24],"nice":false,"zero":false}},"y":{"datum":-106.123,"type":"quantitative","scale":{"domain":[-124.82,-56.751],"nice":false,"zero":false}}}},
{"mark":{"type":"text","text":["FTun","Swp"],"lineHeight":16,"align":"left"},"encoding":{"x":{"datum":-402.24,"type":"quantitative","scale":{"domain":[-438.16,382.24],"nice":false,"zero":false}},"y":{"datum":-108.46,"type":"quantitative","scale":{"domain":[-124.82,-56.751],"nice":false,"zero":false}}}},
{"mark":{"type":"text","text":"*","fontSize":12,"align":"center"},"encoding":{"x":{"datum":331.18,"type":"quantitative","scale":{"domain":[-438.16,382.24],"nice":false,"zero":false}},"y":{"datum":-72.965,"type":"quantitative","scale":{"domain":[-124.82,-56.751],"nice":false,"zero":false}}}},
{"mark":{"type":"text","text":"◇","font":"DejaVu Sans","fontSize":11,"fill":"black","stroke":"black","strokeWidth":0.7,"align":"center","dy":-5},"encoding":{"x":{"field":"mf","type":"quantitative","scale":{"domain":[-438.16,382.24],"nice":false,"zero":false}},"y":{"field":"mk","type":"quantitative","scale":{"domain":[-124.82,-56.751],"nice":false,"zero":false}}}},
{"mark":{"type":"text","text":"1","fontSize":8,"align":"center","dy":-15},"encoding":{"x":{"field":"mf","type":"quantitative","scale":{"domain":[-438.16,382.24],"nice":false,"zero":false}},"y":{"field":"mk","type":"quantitative","scale":{"domain":[-124.82,-56.751],"nice":false,"zero":false}}}},
{"mark":{"type":"text","text":"Center 76.500 0 GHz","align":"left"},"encoding":{"x":{"datum":-402.24,"type":"quantitative","scale":{"domain":[-438.16,382.24],"nice":false,"zero":false}},"y":{"datum":-121.387,"type":"quantitative","scale":{"domain":[-124.82,-56.751],"nice":false,"zero":false}}}},
{"mark":{"type":"text","text":"Span 700 MHz","align":"right"},"encoding":{"x":{"datum":350,"type":"quantitative","scale":{"domain":[-438.16,382.24],"nice":false,"zero":false}},"y":{"datum":-121.387,"type":"quantitative","scale":{"domain":[-124.82,-56.751],"nice":false,"zero":false}}}},
{"mark":{"type":"text","text":"#Res BW 1 MHz","align":"left"},"encoding":{"x":{"datum":-402.24,"type":"quantitative","scale":{"domain":[-438.16,382.24],"nice":false,"zero":false}},"y":{"datum":-123.724,"type":"quantitative","scale":{"domain":[-124.82,-56.751],"nice":false,"zero":false}}}},
{"mark":{"type":"text","text":"#VBW 3 MHz","align":"left"},"encoding":{"x":{"datum":-71.05,"type":"quantitative","scale":{"domain":[-438.16,382.24],"nice":false,"zero":false}},"y":{"datum":-123.724,"type":"quantitative","scale":{"domain":[-124.82,-56.751],"nice":false,"zero":false}}}},
{"mark":{"type":"text","text":"#Sweep 50 s (1001 pts)","align":"right"},"encoding":{"x":{"datum":350,"type":"quantitative","scale":{"domain":[-438.16,382.24],"nice":false,"zero":false}},"y":{"datum":-123.724,"type":"quantitative","scale":{"domain":[-124.82,-56.751],"nice":false,"zero":false}}}},
{"transform":[{"filter":"datum.p == 2"}],"mark":{"type":"text","text":"^","fontSize":10,"align":"center"},"encoding":{"x":{"datum":-196.05,"type":"quantitative","scale":{"domain":[-438.16,382.24],"nice":false,"zero":false}},"y":{"datum":-121.387,"type":"quantitative","scale":{"domain":[-124.82,-56.751],"nice":false,"zero":false}}}}
]}
]}
}
